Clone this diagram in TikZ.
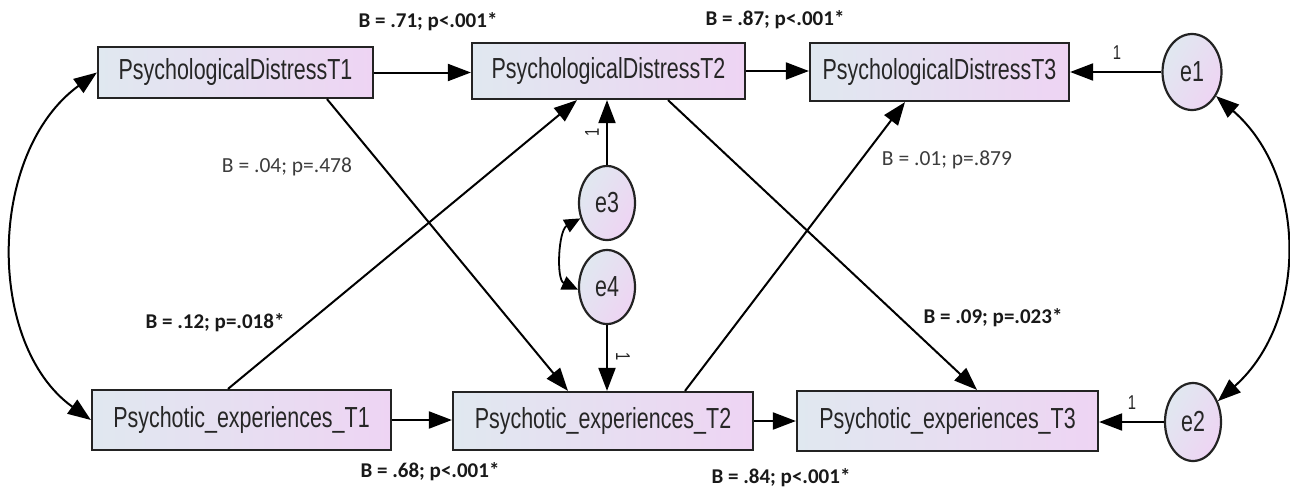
\documentclass[tikz,border=0pt]{standalone}
\usepackage{fontspec}
\setmainfont{Liberation Sans}
\newfontfamily\narrowfont[FakeStretch=0.74]{Liberation Sans}
\newfontfamily\lblfont{Carlito}
\usetikzlibrary{arrows.meta,shapes.geometric,calc}
\definecolor{boxleft}{RGB}{224,232,240}
\definecolor{boxright}{RGB}{238,212,243}
\definecolor{edgecol}{RGB}{35,35,35}
\definecolor{lblgray}{RGB}{60,60,60}
\tikzset{
  varbox/.style={draw=edgecol, line width=2.2pt, left color=boxleft, right color=boxright,
    inner sep=0pt, font=\narrowfont\fontsize{29}{32}\selectfont, text=black!85},
  errnode/.style={ellipse, draw=edgecol, line width=2.2pt, left color=boxleft, right color=boxright,
    shading angle=60, minimum width=56pt, minimum height=74pt, inner sep=0pt,
    font=\narrowfont\fontsize{29}{32}\selectfont, text=black!85},
  conn/.style={line width=2pt, -{Triangle[length=23pt,width=17pt]}},
  cov/.style={line width=2pt, {Triangle[length=23pt,width=17pt]}-{Triangle[length=23pt,width=17pt]}},
  smallcov/.style={line width=1.8pt, {Triangle[length=16pt,width=14pt]}-{Triangle[length=16pt,width=14pt]}},
  blabel/.style={font=\lblfont\bfseries\fontsize{21}{24}\selectfont, text=black!90},
  rlabel/.style={font=\lblfont\fontsize{21.5}{24}\selectfont, text=lblgray},
  onelabel/.style={font=\narrowfont\fontsize{20}{22}\selectfont, text=black!85}
}
\begin{document}
\begin{tikzpicture}[x=1pt,y=-1pt]
\fill[white] (0,0) rectangle (1290,490);
\useasboundingbox (0,0) rectangle (1290,490);

% variable boxes
\node[varbox, minimum width=275pt, minimum height=51pt] (pd1) at (235.5,72.5) {PsychologicalDistressT1};
\node[varbox, minimum width=273pt, minimum height=56pt] (pd2) at (608.5,71) {PsychologicalDistressT2};
\node[varbox, minimum width=259pt, minimum height=58pt] (pd3) at (939.5,72) {PsychologicalDistressT3};
\node[varbox, minimum width=299pt, minimum height=60pt] (pe1) at (241.5,420) {Psychotic\_experiences\_T1};
\node[varbox, minimum width=300pt, minimum height=58pt] (pe2) at (603,421) {Psychotic\_experiences\_T2};
\node[varbox, minimum width=301pt, minimum height=60pt] (pe3) at (947.5,421) {Psychotic\_experiences\_T3};

% error terms
\node[errnode, minimum width=59pt, minimum height=76pt] (e1) at (1192,72) {e1};
\node[errnode, minimum width=56pt, minimum height=78pt] (e2) at (1193,422) {e2};
\node[errnode] (e3) at (607,203) {e3};
\node[errnode] (e4) at (607,287) {e4};

% autoregressive paths
\draw[conn] (pd1.east) -- (pd1.east -| pd2.west);
\draw[conn] (pd2.east) -- (pd2.east -| pd3.west);
\draw[conn] (pe1.east) -- (pe1.east -| pe2.west);
\draw[conn] (pe2.east) -- (pe2.east -| pe3.west);

% error paths
\draw[conn] (e1.west) -- (e1.west -| pd3.east);
\draw[conn] (e2.west) -- (e2.west -| pe3.east);
\draw[conn] (e3.north) -- (e3.north |- pd2.south);
\draw[conn] (e4.south) -- (e4.south |- pe2.north);

% cross-lagged paths
\draw[conn] ([xshift=91.5pt]pd1.south) -- ([xshift=-35pt]pe2.north);
\draw[conn] ([xshift=-13.5pt]pe1.north) -- ([xshift=-31.5pt]pd2.south);
\draw[conn] ([xshift=82pt]pe2.north) -- ([xshift=-34.5pt]pd3.south);
\draw[conn] ([xshift=59.5pt]pd2.south) -- ([xshift=29.5pt]pe3.north);

% covariances
\draw[cov] (pd1.west) .. controls +(-110,80) and +(-105,-75) .. (pe1.west);
\draw[cov] (e1.-45) .. controls +(92,80) and +(90,-80) .. (e2.40);
\draw[smallcov] (e3.210) .. controls +(-22,12) and +(-22,-10) .. (e4.185);

% fixed loadings
\node[onelabel] (one1) at (1117,53) {1};
\node[onelabel] (one2) at (1132,403) {1};
\node[onelabel, rotate=90] (one3) at (592,132) {1};
\node[onelabel, rotate=-90] (one4) at (623,357) {1};

% coefficient labels
\node[blabel] (l71) at (428,22) {B = .71; p<.001*};
\node[blabel] (l87) at (775,20) {B = .87; p<.001*};
\node[rlabel] (l04) at (287,167) {B = .04; p=.478};
\node[rlabel] (l01) at (947,160) {B = .01; p=.879};
\node[blabel] (l12) at (215,323) {B = .12; p=.018*};
\node[blabel] (l09) at (993,318) {B = .09; p=.023*};
\node[blabel] (l68) at (430,472) {B = .68; p<.001*};
\node[blabel] (l84) at (781,478) {B = .84; p<.001*};
\end{tikzpicture}
\end{document}
